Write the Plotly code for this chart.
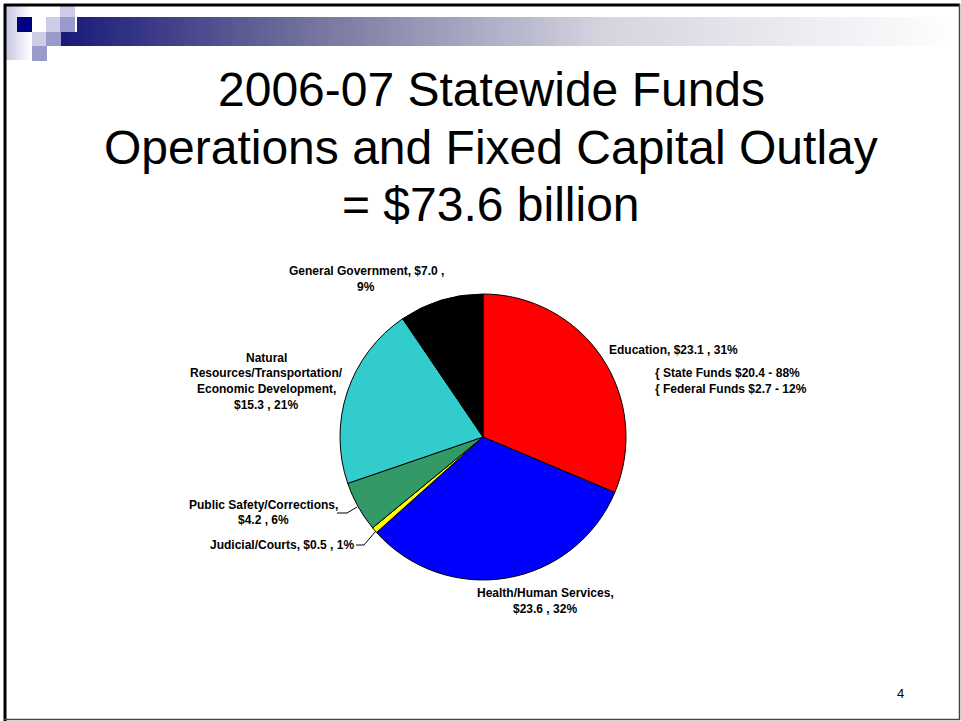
import plotly.graph_objects as go

W, H = 961, 721

# ---- data -------------------------------------------------------------
categories = [
    "Education",
    "Health/Human Services",
    "Judicial/Courts",
    "Public Safety/Corrections",
    "Natural Resources/Transportation/Economic Development",
    "General Government",
]
amounts = [23.1, 23.6, 0.5, 4.2, 15.3, 7.0]  # $ billions
slice_colors = ["#ff0000", "#0000ff", "#ffff00", "#339966", "#33cccc", "#000000"]

edu_parts = ["State Funds", "Federal Funds"]
edu_amounts = [20.4, 2.7]

title_lines = [
    "2006-07 Statewide Funds",
    "Operations and Fixed Capital Outlay",
    "= $73.6 billion",
]
page_number = "4"

total = sum(amounts)
pct = [round(v / total * 100) for v in amounts]
edu_pct = [round(v / sum(edu_amounts) * 100) for v in edu_amounts]


def px(x):
    return x / W


def py(y):
    return 1 - y / H


FONT = "Arial, Liberation Sans, sans-serif"
LBL = 12  # data label font size

# ---- pie --------------------------------------------------------------
cx, cy, r = 483, 437, 143
fig = go.Figure(
    go.Pie(
        labels=categories,
        values=amounts,
        sort=False,
        direction="clockwise",
        rotation=0,
        marker=dict(colors=slice_colors, line=dict(color="#000000", width=1)),
        textinfo="none",
        hoverinfo="label+value",
        showlegend=False,
        domain=dict(x=[px(cx - r), px(cx + r)], y=[py(cy + r), py(cy - r)]),
    )
)

shapes = []


def rect(x0, y0, x1, y1, color):
    shapes.append(dict(type="rect", xref="paper", yref="paper",
                       x0=px(x0), x1=px(x1), y0=py(y1), y1=py(y0),
                       fillcolor=color, line=dict(width=0), layer="below"))


def lerp(c0, c1, t):
    return tuple(round(a + (b - a) * t) for a, b in zip(c0, c1))


# header: gradient strip on the left edge
for i in range(26):
    c = lerp((200, 200, 228), (255, 255, 255), i / 25)
    rect(6 + i, 6, 7 + i, 60, "rgb(%d,%d,%d)" % c)

# header: long gradient bar
stops = [(61, (26, 26, 122)), (300, (112, 112, 156)), (600, (212, 212, 224)), (947, (254, 254, 255))]
x = 61
while x < 947:
    for (xa, ca), (xb, cb) in zip(stops[:-1], stops[1:]):
        if xa <= x < xb:
            c = lerp(ca, cb, (x - xa) / (xb - xa))
            break
    y0 = 32 if x < 75 else 17
    rect(x, y0, x + 4, 46, "rgb(%d,%d,%d)" % c)
    x += 4

# header: small squares
rect(17, 17, 32, 32, "#000080")
rect(46, 17, 61, 32, "#ccccE6")
rect(60, 6, 75, 17, "#ccccE6")
rect(60, 17, 75, 32, "#9999cc")
rect(32, 32, 46, 46, "#ccccE6")
rect(46, 32, 61, 46, "#9999cc")
rect(32, 46, 47, 61, "#9999cc")


# slide frame
def line(x0, y0, x1, y1, color, width):
    shapes.append(dict(type="line", xref="paper", yref="paper",
                       x0=px(x0), y0=py(y0), x1=px(x1), y1=py(y1),
                       line=dict(color=color, width=width)))


line(4, 5, 960, 5, "#000000", 3)
line(5, 4, 5, 721, "#000000", 3)
line(959.5, 4, 959.5, 720, "#444444", 1.5)
line(4, 719.5, 960, 719.5, "#444444", 1.5)

# leader lines for the thin slices
shapes.append(dict(type="path", xref="paper", yref="paper",
                   path="M %f %f L %f %f L %f %f" % (px(337), py(513), px(347), py(513), px(357), py(507)),
                   line=dict(color="#000000", width=1)))
shapes.append(dict(type="path", xref="paper", yref="paper",
                   path="M %f %f L %f %f L %f %f" % (px(356), py(545), px(364), py(545), px(376), py(531)),
                   line=dict(color="#000000", width=1)))

# ---- text -------------------------------------------------------------
annotations = []


def text(x, y, s, size, anchor="center", bold=False):
    annotations.append(dict(
        x=px(x), y=py(y), xref="paper", yref="paper", showarrow=False,
        text=("<b>%s</b>" % s) if bold else s, xanchor=anchor, yanchor="middle",
        font=dict(family=FONT, size=size, color="#000000")))


for yy, s in zip([90, 147, 204], title_lines):
    text(491, yy, s, 48)


def lbl(i):
    return "$%.1f , %d%%" % (amounts[i], pct[i])


text(366, 271, "%s, $%.1f ," % (categories[5], amounts[5]), LBL, bold=True)
text(366, 287, "%d%%" % pct[5], LBL, bold=True)

text(607, 350, "%s, %s" % (categories[0], lbl(0)), LBL, anchor="left", bold=True)
for yy, name, v, p in zip([373, 389], edu_parts, edu_amounts, edu_pct):
    text(653, yy, "{ %s $%.1f - %d%%" % (name, v, p), LBL, anchor="left", bold=True)

nat = categories[4].split("/")
for yy, s in zip([358, 373, 389, 405],
                 [nat[0].split()[0], nat[0].split()[1] + "/" + nat[1] + "/", nat[2] + ",", lbl(4)]):
    text(266, yy, s, LBL, bold=True)

text(263, 505, categories[3] + ",", LBL, bold=True)
text(263, 520, lbl(3), LBL, bold=True)

text(356, 545, "%s, %s" % (categories[2], lbl(2)), LBL, anchor="right", bold=True)

text(545, 593, categories[1] + ",", LBL, bold=True)
text(545, 609, lbl(1), LBL, bold=True)

text(900, 693, page_number, 13)

fig.update_layout(
    width=W, height=H,
    margin=dict(l=0, r=0, t=0, b=0),
    paper_bgcolor="#ffffff",
    plot_bgcolor="#ffffff",
    shapes=shapes,
    annotations=annotations,
    font=dict(family=FONT),
)

fig.write_html("out.html")
